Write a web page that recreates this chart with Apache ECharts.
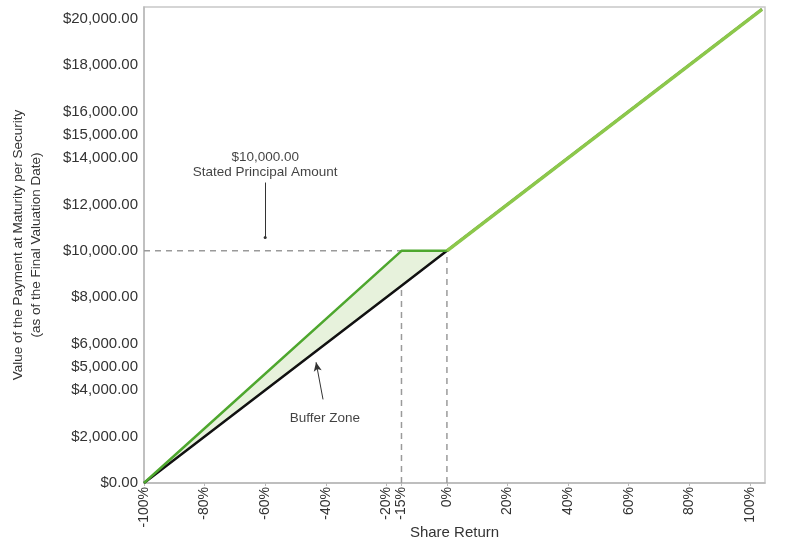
<!DOCTYPE html>
<html>
<head>
<meta charset="utf-8">
<script src="https://cdn.jsdelivr.net/npm/echarts@6/dist/echarts.min.js"></script>
<style>
  html, body { margin: 0; padding: 0; background: #fff; }
  #chart { width: 797px; height: 546px; }
</style>
</head>
<body>
<div id="chart"></div>
<script>
// share return breakpoints (%) and payment values ($)
const shareReturn = [-100, -15, 0, 104]
const underlying = [0, 8500, 10000, 20400] // no buffer, 1:1 with shares
const payment = [0, 10000, 10000, 20400] // buffered payment

const xTicks = [-100, -80, -60, -40, -20, -15, 0, 20, 40, 60, 80, 100]
const yTicks = [0, 2000, 4000, 5000, 6000, 8000, 10000, 12000, 14000, 15000, 16000, 18000, 20000]

// dashed guides
const guideH = [[-100, 10000], [0, 10000]]
const guideV1 = [[-15, 0], [-15, 10000]]
const guideV2 = [[0, 0], [0, 10000]]

// annotations
const noteTexts = ['$10,000.00\nStated Principal Amount', 'Buffer Zone']
const notePoints = [[-60, 13700], [-40.3, 2780]]
const principalArrow = [[-60, 12940], [-60, 10570]]
const bufferArrow = [[-40.9, 3600], [-43.2, 5200]]

const font = 'Liberation Sans, Arial, sans-serif'
const darkGreen = '#4ea72e'
const lightGreen = '#8cc84b'

const pts = (ys, from, to) => shareReturn.slice(from, to).map((x, i) => [x, ys[from + i]])
// buffer zone polygon: buffered payment on top, underlying back along the bottom
const bufferZone = pts(payment, 0, 3).concat(pts(underlying, 0, 3).reverse())

const dashed = data => ({
  type: 'line',
  data,
  symbol: 'none',
  silent: true,
  z: 1,
  lineStyle: { color: '#9a9a9a', width: 1.5, type: [6, 5] }
})

const myChart = echarts.init(document.getElementById('chart'))
myChart.setOption({
  animation: false,
  grid: {
    left: 144,
    right: 32,
    top: 7,
    bottom: 63,
    outerBoundsMode: 'none',
    containLabel: false,
    show: true,
    borderColor: '#c8c8c8',
    borderWidth: 1.5
  },
  xAxis: {
    type: 'value',
    min: -100,
    max: 105,
    name: 'Share Return',
    nameLocation: 'middle',
    nameGap: 42,
    nameMoveOverlap: false,
    nameTextStyle: { fontFamily: font, fontSize: 15, color: '#333' },
    splitLine: { show: false },
    axisLine: { onZero: false, lineStyle: { color: '#b8b8b8', width: 1.5 } },
    axisTick: { show: true, length: 3, customValues: xTicks, lineStyle: { color: '#b8b8b8' } },
    axisLabel: {
      customValues: xTicks,
      rotate: 90,
      margin: 4,
      fontFamily: font,
      fontSize: 14,
      color: '#333',
      formatter: v => v + '%'
    }
  },
  yAxis: {
    type: 'value',
    min: 0,
    max: 20500,
    name: 'Value of the Payment at Maturity per Security\n(as of the Final Valuation Date)',
    nameLocation: 'middle',
    nameRotate: 90,
    nameGap: 99,
    nameMoveOverlap: false,
    nameTextStyle: { fontFamily: font, fontSize: 13.5, color: '#333', lineHeight: 18 },
    splitLine: { show: false },
    axisLine: { show: true, onZero: false, lineStyle: { color: '#b8b8b8', width: 1.5 } },
    axisTick: { show: false },
    axisLabel: {
      customValues: yTicks,
      margin: 6,
      fontFamily: font,
      fontSize: 15,
      color: '#333',
      formatter: v => '$' + v.toLocaleString('en-US', { minimumFractionDigits: 2, maximumFractionDigits: 2 })
    }
  },
  series: [
    dashed(guideH),
    dashed(guideV1),
    dashed(guideV2),
    {
      type: 'custom',
      data: bufferZone,
      silent: true,
      z: 2,
      renderItem: (params, api) => {
        if (params.dataIndex !== 0) return null
        return {
          type: 'polygon',
          shape: { points: bufferZone.map(p => api.coord(p)) },
          style: { fill: '#e7f2dc' }
        }
      }
    },
    {
      type: 'line',
      data: pts(underlying, 0, 4),
      symbol: 'none',
      z: 3,
      lineStyle: { color: '#111', width: 2.5 }
    },
    {
      type: 'line',
      data: pts(payment, 0, 3),
      symbol: 'none',
      z: 4,
      lineStyle: { color: darkGreen, width: 2.5 }
    },
    {
      type: 'line',
      data: pts(payment, 2, 4),
      symbol: 'none',
      z: 5,
      lineStyle: { color: lightGreen, width: 3.5 }
    },
    {
      type: 'scatter',
      data: notePoints,
      symbolSize: 1,
      silent: true,
      z: 6,
      itemStyle: { color: 'transparent' },
      label: {
        show: true,
        position: 'inside',
        fontFamily: font,
        fontSize: 13.5,
        lineHeight: 15,
        color: '#111',
        align: 'center',
        formatter: p => noteTexts[p.dataIndex]
      },
      markLine: {
        silent: true,
        animation: false,
        label: { show: false },
        lineStyle: { color: '#333', width: 1, type: 'solid' },
        data: [
          [
            { coord: principalArrow[0], symbol: 'none' },
            { coord: principalArrow[1], symbol: 'circle', symbolSize: 3 }
          ],
          [
            { coord: bufferArrow[0], symbol: 'none' },
            { coord: bufferArrow[1], symbol: 'arrow', symbolSize: [6, 9] }
          ]
        ]
      }
    }
  ]
})
</script>
</body>
</html>
